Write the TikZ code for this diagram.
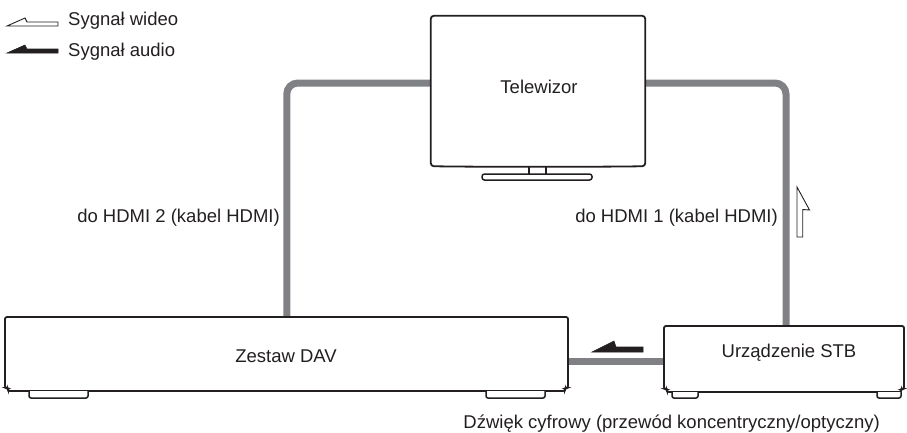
\documentclass[tikz,border=0pt]{standalone}
\usepackage{fontspec}
\setmainfont{Liberation Sans}
\definecolor{ink}{RGB}{35,31,32}
\definecolor{cablegray}{RGB}{128,129,132}
\begin{document}
\begin{tikzpicture}[x=1pt,y=-1pt,
  font=\fontsize{18.5}{21}\selectfont,
  every node/.style={inner sep=0pt, text=ink},
  outl/.style={draw=ink, line width=1.8pt, fill=white},
  cable/.style={draw=cablegray, line width=7pt, rounded corners=11pt},
  hollowarrow/.style={draw=ink, line width=0.9pt, fill=white, line join=miter},
  solidarrow/.style={draw=ink, line width=0.6pt, fill=ink},
  foot/.style={draw=ink, line width=1.5pt, fill=white, rounded corners=2pt},
  txt/.style={anchor=base}]
\useasboundingbox (0,0) rectangle (907,432);

% equipment placeholders (shapes drawn below)
\node[minimum width=214pt, minimum height=150pt] (tv) at (538,91) {};
\node[minimum width=563pt, minimum height=74pt] (dav) at (286.5,354) {};
\node[minimum width=240pt, minimum height=66pt] (stb) at (784,359) {};

% cables
\draw[cable] ([yshift=8pt]tv.west) -| ([xshift=282pt]dav.north west);
\draw[cable] ([yshift=8pt]tv.east) -| ([xshift=2pt]stb.north);
\draw[cable, rounded corners=0pt] ([yshift=-2pt]stb.west) -- ([yshift=-2pt]stb.west -| dav.east);

% TV
\draw[outl, rounded corners=3pt] (tv.north west) -- (tv.north east) -- (tv.south east)
  .. controls (600,167) and (476,167) .. (tv.south west) -- cycle;
\draw[draw=ink, line width=1.2pt] (529,166.5) -- (529,174) (546,166.5) -- (546,174);
\draw[outl, line width=1.5pt, rounded corners=2.5pt] (482,174) rectangle (592,180);

% DAV
\draw[outl, rounded corners=2pt] (8,391) -- (8,388) -- (5,388) -- (5,317) -- (568,317) -- (568,388) -- (565,388) -- (565,391) -- cycle;
\draw[foot] (29,391) -- (29,398) -- (88,398) -- (88,391);
\draw[foot] (486,391) -- (486,398) -- (545,398) -- (545,391);

% STB
\draw[outl, rounded corners=2pt] (667,392) -- (667,389) -- (664,389) -- (664,326) -- (904,326) -- (904,389) -- (901,389) -- (901,392) -- cycle;
\draw[foot] (672,392) -- (672,398) -- (698,398) -- (698,392);
\draw[foot] (877,392) -- (877,398) -- (901,398) -- (901,392);

% signal arrows
\draw[hollowarrow] (7,26) -- (25,18) -- (27,22) -- (58,22) -- (58,26) -- cycle;
\draw[solidarrow] (7,53) -- (25,45) -- (27,49) -- (58,49) -- (58,53) -- cycle;
\draw[solidarrow] (592,352) -- (614,341) -- (616,347) -- (643,347) -- (643,352) -- cycle;
\draw[hollowarrow] (797,187) -- (809.5,210) -- (802.7,209.5) -- (802.7,237) -- (797,237) -- cycle;

% texts
\node[anchor=base west] (lvideo) at (68,25) {Sygnał wideo};
\node[anchor=base west] (laudio) at (68,56) {Sygnał audio};
\node[txt] (tvlabel) at (539,93) {Telewizor};
\node[txt] (davlabel) at (286,362) {Zestaw DAV};
\node[txt] (stblabel) at (789,357) {Urządzenie STB};
\node[anchor=base east] (hdmi2) at (280,222) {do HDMI 2 (kabel HDMI)};
\node[anchor=base east] (hdmi1) at (778,222) {do HDMI 1 (kabel HDMI)};
\node[anchor=base east] (digital) at (880,428) {Dźwięk cyfrowy (przewód koncentryczny/optyczny)};
\end{tikzpicture}
\end{document}
